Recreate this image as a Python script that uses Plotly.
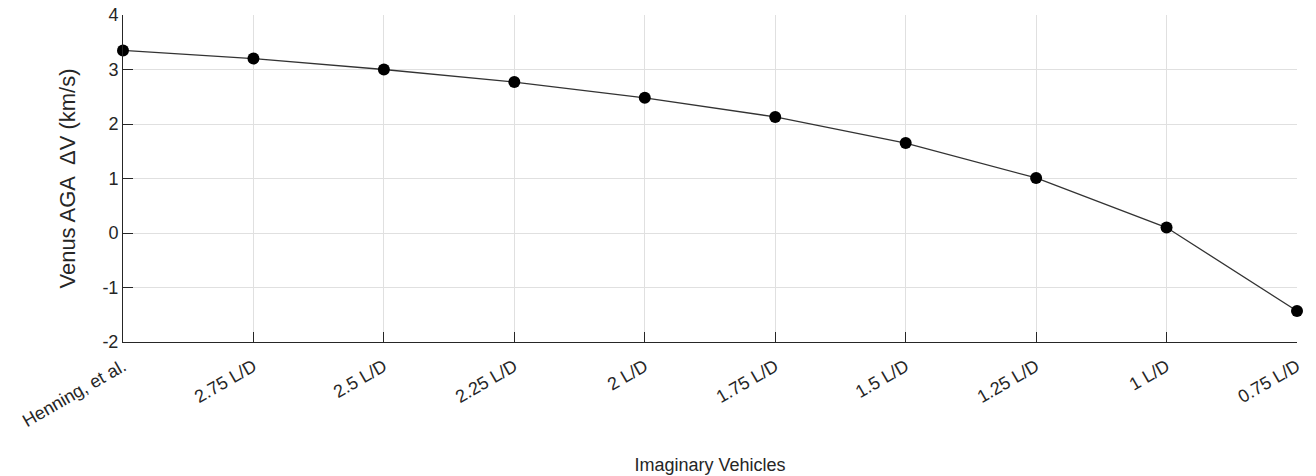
import plotly.graph_objects as go

categories = ["Henning, et al.", "2.75 L/D", "2.5 L/D", "2.25 L/D", "2 L/D",
              "1.75 L/D", "1.5 L/D", "1.25 L/D", "1 L/D", "0.75 L/D"]
delta_v = [3.35, 3.20, 3.00, 2.77, 2.48, 2.13, 1.65, 1.01, 0.10, -1.43]
y_ticks = [-2, -1, 0, 1, 2, 3, 4]
y_tick_labels = ["-2", "-1", "0", "1", "2", "3", "4"]

x_idx = list(range(len(categories)))

fig = go.Figure()
fig.add_trace(go.Scatter(
    x=x_idx, y=delta_v, mode="lines+markers",
    line=dict(color="#333333", width=1.3),
    marker=dict(color="black", size=12),
    cliponaxis=False, showlegend=False,
))

FAM = "Liberation Sans, Arial, sans-serif"
TXT = "#262626"

fig.update_layout(
    width=1316, height=476,
    margin=dict(l=123, r=19, t=15, b=134),
    plot_bgcolor="white", paper_bgcolor="white",
    font=dict(family=FAM, size=17, color=TXT),
    xaxis=dict(
        range=[0, 9], tickmode="array", tickvals=x_idx, ticktext=categories,
        tickangle=-30, ticks="inside", ticklen=10, tickcolor=TXT,
        ticklabelstandoff=6,
        showline=True, linecolor=TXT, linewidth=1, automargin=False,
        showgrid=True, gridcolor="#e0e0e0", gridwidth=1, zeroline=False,
        title=dict(text="Imaginary Vehicles", font=dict(family=FAM, size=18, color=TXT), standoff=28),
        tickfont=dict(family=FAM, size=18, color=TXT),
    ),
    yaxis=dict(
        range=[-2, 4], tickmode="array", tickvals=y_ticks, ticktext=y_tick_labels,
        ticks="inside", ticklen=10, tickcolor=TXT,
        showline=True, linecolor=TXT, linewidth=1, automargin=False,
        showgrid=True, gridcolor="#e0e0e0", gridwidth=1, zeroline=False,
        title=dict(text="Venus AGA \u00a0\u0394V (km/s)", font=dict(family=FAM, size=22, color=TXT), standoff=20),
        tickfont=dict(family=FAM, size=18, color=TXT),
    ),
)

fig.write_html("out.html")
